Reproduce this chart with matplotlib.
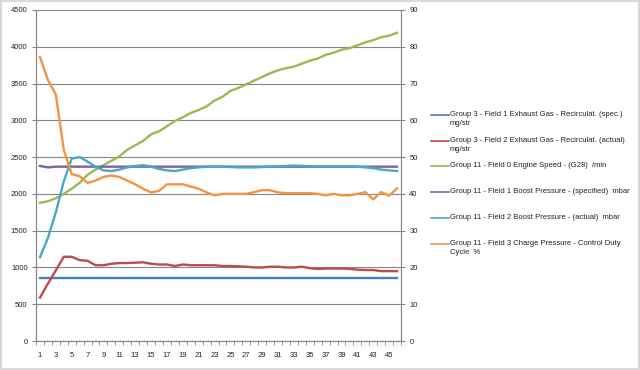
import matplotlib.pyplot as plt
from matplotlib.lines import Line2D
from matplotlib.patches import Rectangle

# datos (46 muestras)
muestras = list(range(1, 47))

egr_spec = [850] * 46
egr_actual = [590, 780, 960, 1145, 1145, 1100, 1090, 1030, 1030, 1050,
              1060, 1060, 1065, 1070, 1050, 1040, 1040, 1020, 1040, 1030,
              1030, 1030, 1030, 1020, 1020, 1015, 1010, 1000, 1000, 1010,
              1010, 1000, 1000, 1010, 990, 980, 985, 985, 985, 980,
              970, 965, 965, 950, 950, 950]
engine_speed = [1880, 1900, 1940, 2000, 2070, 2150, 2260, 2330, 2390, 2450,
                2510, 2600, 2660, 2720, 2810, 2850, 2920, 2990, 3040, 3100,
                3140, 3190, 3270, 3320, 3400, 3440, 3490, 3540, 3590, 3640,
                3680, 3710, 3730, 3770, 3810, 3840, 3890, 3920, 3960, 3980,
                4020, 4060, 4090, 4130, 4150, 4190]
boost_spec = [2380, 2360, 2370, 2370, 2370, 2370, 2370, 2370, 2370, 2370,
              2370, 2370, 2370, 2370, 2370, 2370, 2370, 2370, 2370, 2370,
              2370, 2370, 2370, 2370, 2370, 2370, 2370, 2370, 2370, 2370,
              2370, 2370, 2370, 2370, 2370, 2370, 2370, 2370, 2370, 2370,
              2370, 2370, 2370, 2370, 2370, 2370]
boost_actual = [1140, 1400, 1750, 2170, 2480, 2500, 2440, 2370, 2320, 2310,
                2330, 2360, 2380, 2390, 2370, 2340, 2320, 2310, 2330, 2350,
                2360, 2370, 2370, 2370, 2365, 2360, 2360, 2360, 2365, 2370,
                2375, 2380, 2385, 2380, 2375, 2375, 2375, 2375, 2375, 2375,
                2370, 2360, 2350, 2330, 2320, 2310]
duty_cycle = [77.2, 71.0, 67.0, 52.0, 45.4, 44.8, 43.0, 43.6, 44.6, 45.0,
              44.6, 43.6, 42.6, 41.4, 40.4, 40.8, 42.6, 42.6, 42.6, 42.0,
              41.4, 40.4, 39.6, 40.0, 40.0, 40.0, 40.0, 40.5, 41.0, 41.0,
              40.4, 40.2, 40.2, 40.2, 40.2, 40.0, 39.6, 40.0, 39.6, 39.6,
              40.0, 40.5, 38.5, 40.5, 39.5, 41.5]

etiquetas = ['Group 3 - Field 1 Exhaust Gas - Recirculat. (spec.)\nmg/str',
             'Group 3 - Field 2 Exhaust Gas - Recirculat. (actual)\nmg/str',
             'Group 11 - Field 0 Engine Speed - (G28)  /min',
             'Group 11 - Field 1 Boost Pressure - (specified)  mbar',
             'Group 11 - Field 2 Boost Pressure - (actual)  mbar',
             'Group 11 - Field 3 Charge Pressure - Control Duty\nCycle  %']
colores = ['#4A7EBB', '#BE4B48', '#98B954', '#7D60A0', '#46AAC5', '#F69240']

plt.rcParams['font.family'] = ['Liberation Sans', 'DejaVu Sans']
fs = 5.5
gris = '#868686'

fig = plt.figure(figsize=(6.4, 3.7), dpi=100)
fig.patches.append(Rectangle((0.002, 0.003), 0.996, 0.994, transform=fig.transFigure,
                             fill=False, edgecolor='#d9d9d9', linewidth=1.5))

ax = fig.add_axes([36/640, 1 - 341/370, 365/640, 331/370])
ax2 = ax.twinx()

lw = 1.7
izq = [egr_spec, egr_actual, engine_speed, boost_spec, boost_actual]
for serie, c in zip(izq, colores[:5]):
    ax.plot(muestras, serie, color=c, linewidth=lw, solid_joinstyle='round')
ax2.plot(muestras, duty_cycle, color=colores[5], linewidth=lw, solid_joinstyle='round')

ax.set_xlim(0.5, 46.5)
ax.set_ylim(0, 4500)
ax2.set_ylim(0, 90)
ax.set_yticks(range(0, 4501, 500))
ax2.set_yticks(range(0, 91, 10))
ax.set_xticks(range(1, 47, 2))
ax.set_xticks([i + 0.5 for i in range(0, 47)], minor=True)
ax.grid(axis='y', color=gris, linewidth=0.8)
ax.set_axisbelow(True)

for a in (ax, ax2):
    for s in a.spines.values():
        s.set_color(gris)
        s.set_linewidth(0.8)
    a.spines['top'].set_visible(False)
    a.tick_params(colors=gris, labelcolor='#222222', labelsize=fs, width=0.8)
ax.tick_params(axis='x', which='major', length=0, pad=8)
ax.tick_params(axis='x', which='minor', length=3, direction='out', color=gris)
ax.tick_params(axis='y', length=3, pad=3)
ax2.tick_params(axis='y', length=3, pad=3)

# leyenda a mano
ys = [115, 141, 166, 192, 218, 244]
for y, c, t in zip(ys, colores, etiquetas):
    fy = 1 - y/370
    fig.add_artist(Line2D([431/640, 449/640], [fy, fy], color=c, linewidth=1.2,
                          transform=fig.transFigure))
    fig.text(450/640, fy + 4/370, t, fontsize=fs, color='#222222', va='top',
             ha='left', linespacing=1.45)

fig.savefig('out.png', dpi=100)
